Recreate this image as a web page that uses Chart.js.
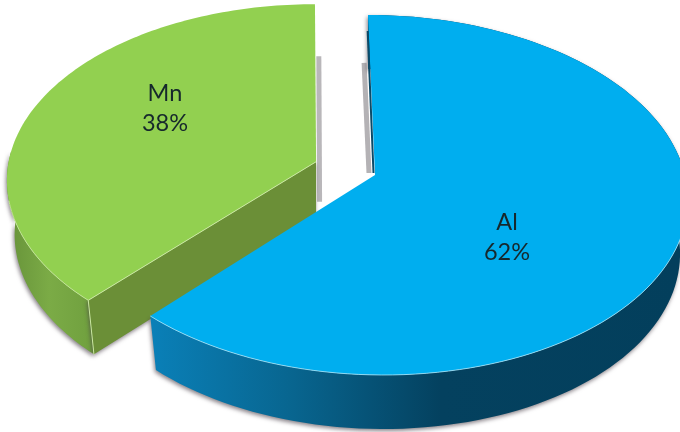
<!DOCTYPE html>
<html>
<head>
<meta charset="utf-8">
<title>Al / Mn</title>
<script src="https://cdn.jsdelivr.net/npm/chart.js@4/dist/chart.umd.min.js"></script>
<style>
  html, body { margin: 0; padding: 0; background: #fff; }
  canvas { display: block; filter: blur(0.4px); }
</style>
</head>
<body>
<canvas id="pie" width="680" height="432"></canvas>
<script>
const categories = ['Al', 'Mn'];
const composition = [62, 38];

const sliceColors = ['#00AEEF', '#92D050'];
const edgeColors = ['#A5E3F8', '#C9E8A0'];
const labelSpots = [[507, 222], [165, 93]];

// chart.js only knows flat circles, so the arcs get pushed through a perspective
const view = { ax: 375, ay: 175, rx: 310, ry: 177.8, k: 0.111, shear: 7.8, depth: 54, shrink: 0.975 };

function project(u, v) {
  const w = 1 - view.k * v;
  return [view.ax + (view.rx * u + view.shear * v) / w, view.ay + view.ry * v / w];
}

function sliceGeometry(arc) {
  const start = arc.startAngle, end = arc.endAngle, mid = (start + end) / 2;
  const off = (arc.options.offset || 0) / arc.outerRadius;
  const ou = Math.cos(mid) * off, ov = Math.sin(mid) * off;
  const rim = [];
  const steps = 120;
  for (let i = 0; i <= steps; i++) {
    const a = start + (end - start) * i / steps;
    rim.push(project(ou + Math.cos(a), ov + Math.sin(a)));
  }
  const apex = project(ou, ov);
  const lower = p => [apex[0] + (p[0] - apex[0]) * view.shrink, p[1] + view.depth];
  return { apex, rim, lower };
}

function trace(ctx, pts) {
  ctx.beginPath();
  pts.forEach((p, i) => i ? ctx.lineTo(p[0], p[1]) : ctx.moveTo(p[0], p[1]));
}

function wallGradient(ctx, x0, x1, stops) {
  const g = ctx.createLinearGradient(x0, 0, x1, 0);
  stops.forEach(s => g.addColorStop(s[0], s[1]));
  return g;
}

function along(a, b, t) {
  return [a[0] + (b[0] - a[0]) * t, a[1] + (b[1] - a[1]) * t];
}

function strip(ctx, a, b, color, width) {
  ctx.strokeStyle = color;
  ctx.lineWidth = width;
  ctx.lineCap = 'butt';
  trace(ctx, [a, b]);
  ctx.stroke();
}

function drawWall(ctx, pts, fill) {
  ctx.save();
  ctx.shadowColor = 'rgba(70, 60, 70, 0.65)';
  ctx.shadowBlur = 4;
  ctx.shadowOffsetX = -1;
  ctx.shadowOffsetY = 2;
  ctx.fillStyle = fill;
  trace(ctx, pts);
  ctx.closePath();
  ctx.fill();
  ctx.restore();
}

const pie3d = {
  id: 'pie3d',
  beforeDatasetsDraw(chart) {
    const ctx = chart.ctx;
    const arcs = chart.getDatasetMeta(0).data;
    const al = sliceGeometry(arcs[0]);
    const mn = sliceGeometry(arcs[1]);

    // Mn sits behind Al
    const mnTip = mn.rim[0], mnTop = mn.rim[mn.rim.length - 1];
    strip(ctx, [mn.apex[0] + 3.5, mn.apex[1] + 40], [along(mn.apex, mnTop, 0.67)[0] + 3.5, along(mn.apex, mnTop, 0.67)[1]], '#B9B7BA', 5);
    const mnOuter = mn.rim.filter(p => p[1] > 150);
    drawWall(ctx, mnOuter.concat(mnOuter.map(mn.lower).reverse()),
      wallGradient(ctx, 10, 97, [[0, '#68943A'], [0.45, '#7BAB46'], [1, '#6F9F3E']]));
    drawWall(ctx, [mn.apex, mnTip, mn.lower(mnTip), mn.lower(mn.apex)], '#6B8F37');
    ctx.fillStyle = sliceColors[1];
    trace(ctx, [mn.apex].concat(mn.rim));
    ctx.closePath();
    ctx.fill();
    strip(ctx, mn.apex, mnTip, edgeColors[1], 1);
    strip(ctx, mnTip, mn.lower(mnTip), edgeColors[1], 1);
    ctx.strokeStyle = edgeColors[1];
    ctx.lineWidth = 0.8;
    trace(ctx, mn.rim.filter(p => p[1] > 200));
    ctx.stroke();

    // Al in front
    const alTop = al.rim[0];
    strip(ctx, [al.apex[0] - 6, al.apex[1] - 2], [along(al.apex, alTop, 0.7)[0] - 6, along(al.apex, alTop, 0.7)[1]], '#B4B2B5', 5);
    drawWall(ctx, al.rim.concat(al.rim.map(al.lower).reverse()),
      wallGradient(ctx, 150, 680, [[0, '#0A80B8'], [0.27, '#08658F'], [0.55, '#04415F'], [1, '#033F5C']]));
    ctx.fillStyle = sliceColors[0];
    trace(ctx, [al.apex].concat(al.rim));
    ctx.closePath();
    ctx.fill();
    strip(ctx, [al.apex[0] - 1.5, al.apex[1] - 2], [along(al.apex, alTop, 0.9)[0] - 1, along(al.apex, alTop, 0.9)[1]], '#0B4A68', 2);
    ctx.strokeStyle = edgeColors[0];
    ctx.lineWidth = 0.8;
    trace(ctx, al.rim.filter(p => p[1] > 200));
    ctx.stroke();

    return false; // flat arcs stay undrawn
  },
  afterDraw(chart) {
    const ctx = chart.ctx;
    const total = composition.reduce((a, b) => a + b, 0);
    ctx.save();
    ctx.font = '23.5px Lato';
    ctx.fillStyle = '#16282C';
    ctx.textAlign = 'center';
    ctx.textBaseline = 'middle';
    categories.forEach((name, i) => {
      const spot = labelSpots[i];
      ctx.fillText(name, spot[0], spot[1]);
      ctx.fillText(Math.round(composition[i] / total * 100) + '%', spot[0], spot[1] + 30);
    });
    ctx.restore();
  }
};

new Chart(document.getElementById('pie'), {
  type: 'pie',
  data: {
    labels: categories,
    datasets: [{
      data: composition,
      backgroundColor: sliceColors,
      borderWidth: 0,
      offset: [0, 40]
    }]
  },
  options: {
    responsive: false,
    animation: false,
    plugins: {
      legend: { display: false },
      tooltip: { enabled: false }
    }
  },
  plugins: [pie3d]
});
</script>
</body>
</html>
